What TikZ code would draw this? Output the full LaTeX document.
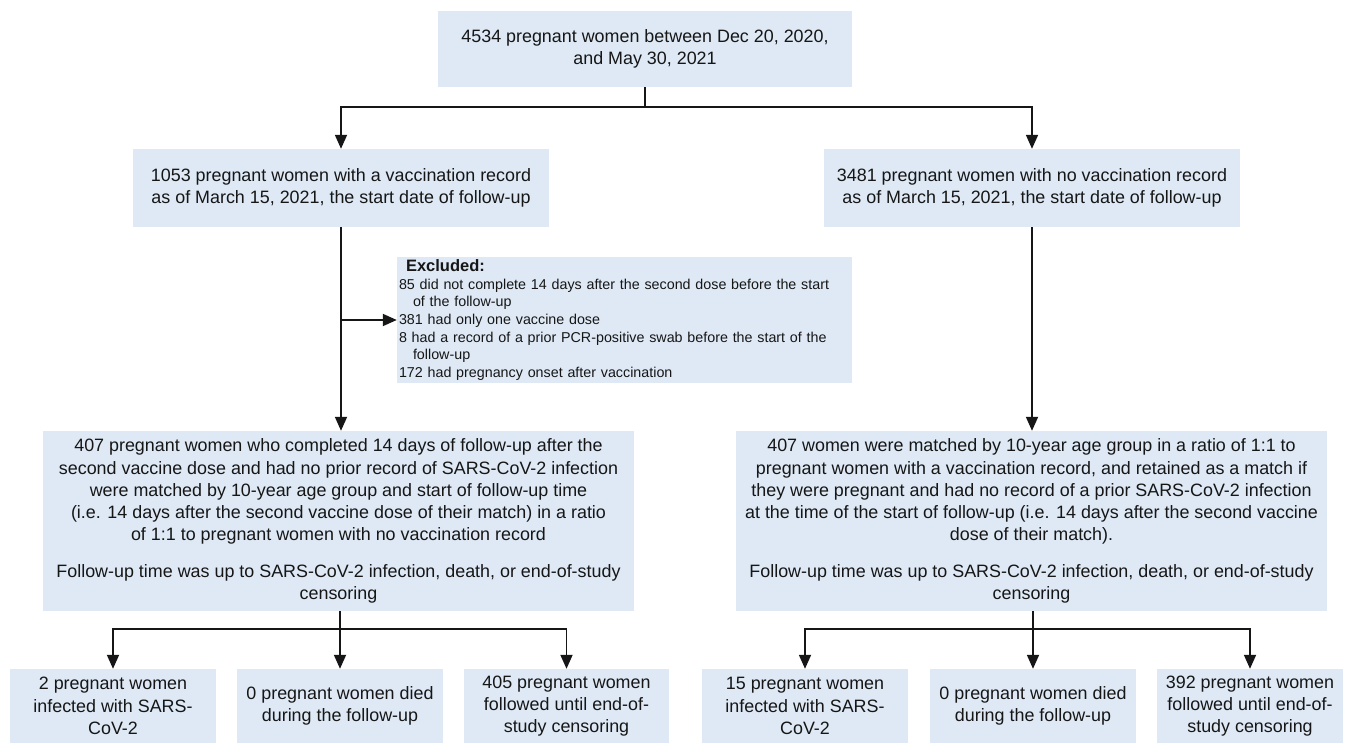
\documentclass[tikz,border=0pt]{standalone}
\usepackage{fontspec}
\setmainfont{Liberation Sans}
\usetikzlibrary{arrows.meta}
\definecolor{boxfill}{RGB}{222,233,245}
\definecolor{ink}{RGB}{22,22,22}
\begin{document}
\begin{tikzpicture}[x=1pt,y=-1pt,
  box/.style={fill=boxfill, draw=none, inner sep=0pt, align=center, text=ink,
    font=\fontsize{17.9}{22.3}\selectfont},
  conn/.style={line width=1.8pt, draw=ink},
  arr/.style={conn, -{Triangle[width=12pt,length=14pt]}}]
\useasboundingbox (0,0) rectangle (1349,743);

% top
\node[box, minimum width=414, minimum height=76] (top) at (645,49)
  {4534 pregnant women between Dec 20, 2020,\\ and May 30, 2021};

% second row
\node[box, minimum width=416, minimum height=78] (v1) at (341,188)
  {1053 pregnant women with a vaccination record\\ as of March 15, 2021, the start date of follow-up};
\node[box, minimum width=416, minimum height=78] (n1) at (1032,188)
  {3481 pregnant women with no vaccination record\\ as of March 15, 2021, the start date of follow-up};

% excluded
\node[box, text width=451, inner xsep=2, minimum height=126, align=left,
  font=\fontsize{14.3}{17.6}\selectfont] (ex) at (624.5,320)
  {\hspace*{7pt}{\fontsize{16.5}{17.6}\selectfont\bfseries Excluded:}\\
   85 did not complete 14 days after the second dose before the start\\
   \hspace*{14pt}of the follow-up\\
   381 had only one vaccine dose\\
   8 had a record of a prior PCR-positive swab before the start of the\\
   \hspace*{14pt}follow-up\\
   172 had pregnancy onset after vaccination};

% third row
\node[box, minimum width=591, minimum height=180] (v2) at (338.5,521)
  {407 pregnant women who completed 14 days of follow-up after the\\
   second vaccine dose and had no prior record of SARS-CoV-2 infection\\
   were matched by 10-year age group and start of follow-up time\\
   (i.e. 14 days after the second vaccine dose of their match) in a ratio\\
   of 1:1 to pregnant women with no vaccination record\\[14pt]
   Follow-up time was up to SARS-CoV-2 infection, death, or end-of-study\\
   censoring};
\node[box, minimum width=591, minimum height=180] (n2) at (1031.5,521)
  {407 women were matched by 10-year age group in a ratio of 1:1 to\\
   pregnant women with a vaccination record, and retained as a match if\\
   they were pregnant and had no record of a prior SARS-CoV-2 infection\\
   at the time of the start of follow-up (i.e. 14 days after the second vaccine\\
   dose of their match).\\[14pt]
   Follow-up time was up to SARS-CoV-2 infection, death, or end-of-study\\
   censoring};

% bottom row
\node[box, minimum width=206, minimum height=74] (va) at (113,706)
  {2 pregnant women\\ infected with SARS-\\ CoV-2};
\node[box, minimum width=206, minimum height=74] (vb) at (340,706)
  {0 pregnant women died\\ during the follow-up};
\node[box, minimum width=205, minimum height=74] (vc) at (566.5,706)
  {405 pregnant women\\ followed until end-of-\\ study censoring};
\node[box, minimum width=206, minimum height=74] (na) at (805,706)
  {15 pregnant women\\ infected with SARS-\\ CoV-2};
\node[box, minimum width=206, minimum height=74] (nb) at (1033,706)
  {0 pregnant women died\\ during the follow-up};
\node[box, minimum width=186, minimum height=74] (nc) at (1250,706)
  {392 pregnant women\\ followed until end-of-\\ study censoring};

% connectors
\coordinate (s1) at (645,107);
\draw[conn] (top.south) -- (s1);
\draw[arr] (s1) -| (v1.north);
\draw[arr] (s1) -| (n1.north);

\coordinate (exjoin) at (v1.south |- ex.west);
\draw[conn] (v1.south) -- (exjoin);
\draw[arr] (exjoin) -- (ex.west);
\draw[arr] (exjoin) -- (v1.south |- v2.north);
\draw[arr] (n1.south) -- (n1.south |- n2.north);

\coordinate (s2) at (340,629);
\draw[conn] (v2.south -| s2) -- (s2);
\draw[arr] (s2) -| (va.north);
\draw[arr] (s2) -- (vb.north);
\draw[arr] (s2) -| (vc.north);

\coordinate (s3) at (1033,629);
\draw[conn] (n2.south -| s3) -- (s3);
\draw[arr] (s3) -| (na.north);
\draw[arr] (s3) -- (nb.north);
\draw[arr] (s3) -| (nc.north);
\end{tikzpicture}
\end{document}
